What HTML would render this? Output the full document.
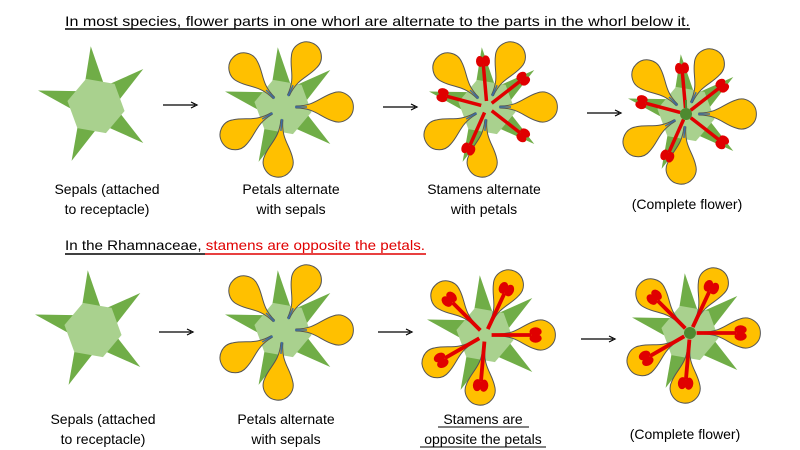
<!DOCTYPE html>
<html><head><meta charset="utf-8"><style>
html,body{margin:0;padding:0;background:#fff;}
svg{display:block;font-family:"Liberation Sans",sans-serif;}
</style></head><body>
<svg width="800" height="450" viewBox="0 0 800 450" xmlns="http://www.w3.org/2000/svg">
<defs>
<polygon id="sep" points="0,-15 60,0 0,15" fill="#70ad47"/>
<polygon id="hex" points="29,0 14.5,25 -14.5,25 -29,0 -14.5,-25 14.5,-25" fill="#a9d18e"/>
<g id="pet">
<path d="M13,-1 C32,-1 37,-10 50,-14 A15,15 0 1 1 50,14 C37,10 32,1 13,1 Z" fill="#ffc000" stroke="#555" stroke-width="1"/>
<line x1="12" y1="0" x2="24" y2="0" stroke="#3b6ea5" stroke-width="1.5"/>
</g>
<g id="sta">
<line x1="6" y1="0" x2="42" y2="0" stroke="#e00000" stroke-width="3.5"/>
<ellipse cx="46" cy="-3" rx="5.5" ry="4" fill="#e00000"/>
<ellipse cx="46" cy="3" rx="5.5" ry="4" fill="#e00000"/>
</g>
<g id="sepals">
<use href="#sep" transform="rotate(-95)"/><use href="#sep" transform="rotate(-38)"/><use href="#sep" transform="rotate(38)"/><use href="#sep" transform="rotate(114)"/><use href="#sep" transform="rotate(195)"/>
<use href="#hex" transform="rotate(10)"/>
</g>
<g id="petals">
<use href="#pet" transform="rotate(-65)"/><use href="#pet" transform="rotate(0)"/><use href="#pet" transform="rotate(95)"/><use href="#pet" transform="rotate(150)"/><use href="#pet" transform="rotate(-135)"/>
</g>
<g id="staA">
<use href="#sta" transform="rotate(-95)"/><use href="#sta" transform="rotate(-38)"/><use href="#sta" transform="rotate(38)"/><use href="#sta" transform="rotate(114)"/><use href="#sta" transform="rotate(195)"/>
</g>
<g id="staP">
<use href="#sta" transform="rotate(-65) scale(1.1)"/><use href="#sta" transform="rotate(0) scale(1.1)"/><use href="#sta" transform="rotate(95) scale(1.1)"/><use href="#sta" transform="rotate(150) scale(1.1)"/><use href="#sta" transform="rotate(-135) scale(1.1)"/>
</g>
<g id="pist"><circle r="6" fill="#4e8a30"/><line x1="0" y1="-5" x2="0" y2="-14" stroke="#4e8a30" stroke-width="2"/></g>
<g id="arr"><line x1="0" y1="0" x2="32" y2="0" stroke="#000" stroke-width="1.2"/><path d="M28,-3 L34,0 L28,3" fill="none" stroke="#000" stroke-width="1.2"/></g>
</defs>

<text x="65" y="26" font-size="14" textLength="625" lengthAdjust="spacingAndGlyphs">In most species, flower parts in one whorl are alternate to the parts in the whorl below it.</text>
<line x1="65" y1="29" x2="690" y2="29" stroke="#000" stroke-width="1.5"/>

<g transform="translate(96,106)"><use href="#sepals"/></g>
<g transform="translate(283,107)"><use href="#sepals"/><use href="#petals"/></g>
<g transform="translate(487,107)"><use href="#sepals"/><use href="#petals"/><use href="#staA"/></g>
<g transform="translate(686,114)"><use href="#sepals"/><use href="#petals"/><use href="#staA"/><use href="#pist"/></g>
<use href="#arr" x="163" y="105"/>
<use href="#arr" x="383" y="107"/>
<use href="#arr" x="587" y="113"/>

<g font-size="14" text-anchor="middle">
<text x="107" y="194">Sepals (attached</text><text x="107" y="214">to receptacle)</text>
<text x="291" y="194">Petals alternate</text><text x="291" y="214">with sepals</text>
<text x="484" y="194">Stamens alternate</text><text x="484" y="214">with petals</text>
<text x="687" y="209">(Complete flower)</text>
</g>

<text x="65" y="250" font-size="14" textLength="360" lengthAdjust="spacingAndGlyphs">In the Rhamnaceae, <tspan fill="#e00000">stamens are opposite the petals.</tspan></text>
<line x1="65" y1="254" x2="205" y2="254" stroke="#000" stroke-width="1.5"/>
<line x1="205" y1="254" x2="426" y2="254" stroke="#e00000" stroke-width="1.5"/>

<g transform="translate(93,330)"><use href="#sepals"/></g>
<g transform="translate(283,330)"><use href="#sepals"/><use href="#petals"/></g>
<g transform="translate(485,335)"><use href="#sepals"/><use href="#petals"/><use href="#staP"/></g>
<g transform="translate(690,333)"><use href="#sepals"/><use href="#petals"/><use href="#staP"/><circle r="6" fill="#4e8a30"/></g>
<use href="#arr" x="159" y="332"/>
<use href="#arr" x="378" y="332"/>
<use href="#arr" x="581" y="339"/>

<g font-size="14" text-anchor="middle">
<text x="103" y="424">Sepals (attached</text><text x="103" y="444">to receptacle)</text>
<text x="286" y="424">Petals alternate</text><text x="286" y="444">with sepals</text>
<text x="483" y="424">Stamens are</text><text x="483" y="444">opposite the petals</text>
<text x="685" y="439">(Complete flower)</text>
</g>
<line x1="438" y1="427" x2="529" y2="427" stroke="#000" stroke-width="1"/>
<line x1="420" y1="447" x2="546" y2="447" stroke="#000" stroke-width="1"/>
</svg>
</body></html>
